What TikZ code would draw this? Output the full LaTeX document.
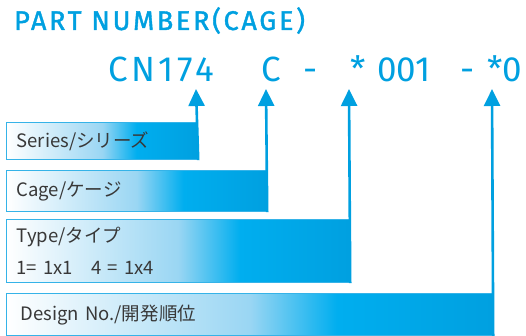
\documentclass[tikz,border=0pt]{standalone}
\usepackage{fontspec}
\setmainfont{Fira Sans}
\newfontfamily\jpfont{Noto Sans CJK JP}
\newfontfamily\titlefont{Fira Sans}[FakeBold=1.4,LetterSpace=10]
\usetikzlibrary{positioning,arrows.meta}
\definecolor{pncyan}{HTML}{00A0E0}
\definecolor{pnlight}{HTML}{9AD6F3}
\definecolor{pnmid}{HTML}{00AEEF}
\definecolor{pnborder}{HTML}{35B3E8}
\definecolor{pntext}{HTML}{383838}
\pgfdeclarehorizontalshading{boxfade}{100bp}{color(0bp)=(white); color(25bp)=(white); color(50bp)=(pnlight); color(59bp)=(pnmid); color(75bp)=(pncyan); color(100bp)=(pncyan)}

\begin{document}
\begin{tikzpicture}[x=1pt,y=-1pt,
    partbox/.style={rectangle,draw=pnborder,line width=1.2pt,shading=boxfade,anchor=north west,
      align=left,text=pntext,font=\jpfont\fontsize{18.5}{22}\selectfont,inner xsep=10pt,inner ysep=0pt},
    pn/.style={anchor=base west,text=pncyan,inner sep=0pt,font=\fontsize{35}{40}\selectfont},
    callout/.style={pncyan,line width=2.6pt,-{Triangle[length=17pt,width=16pt]}}]
      \useasboundingbox (0,0) rectangle (526,336);

      %title
      \node[anchor=base west,text=pncyan,inner sep=0pt,font=\titlefont\fontsize{27}{30}\selectfont] (title) at (14,30) {PART NUMBER(CAGE)};

      %part number
      \node[pn] (series) at (108,82) {\addfontfeature{LetterSpace=10}CN174};
      \node[pn] (cage) at (261,82) {C};
      \node[pn] (dasha) at (303,82) {-};
      \node[pn] (type) at (350,82) {*};
      \node[pn] (typeno) at (377,82) {001};
      \node[pn] (dashb) at (460,82) {-};
      \node[pn] (design) at (487,82) {*0};

      %arrow tips
      \coordinate (tipseries) at (196,89);
      \coordinate (tipcage) at (266,89);
      \coordinate (tiptype) at (349,89);
      \coordinate (tipdesign) at (492,89);

      %boxes
      \node[partbox,text width=171pt,minimum height=37pt] (seriesbox) at (6,122) {Series/シリーズ};
      \node[partbox,text width=240pt,minimum height=41pt] (cagebox) at (6,170) {Cage/ケージ};
      \node[partbox,text width=323pt,minimum height=63pt] (typebox) at (6,219) {\raisebox{3pt}{Type/タイプ}\\[7pt]1= 1x1 \ \ 4 = 1x4};
      \node[partbox,text width=458pt,minimum height=42pt,inner xsep=14pt] (designbox) at (6,293) {Design No./開発順位};

      %callouts
      \draw[callout] (seriesbox.south east) -- (tipseries);
      \draw[callout] (cagebox.south east) -- (tipcage);
      \draw[callout] (typebox.south east) -- (tiptype);
      \draw[callout] (designbox.south east) -- (tipdesign);

    \end{tikzpicture}
\end{document}
